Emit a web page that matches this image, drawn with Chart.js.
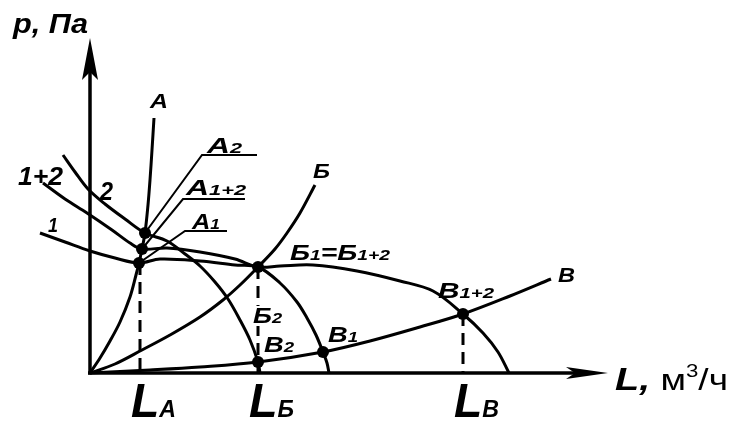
<!DOCTYPE html>
<html><head><meta charset="utf-8">
<script src="https://cdn.jsdelivr.net/npm/chart.js@4/dist/chart.umd.min.js"></script>
<style>html,body{margin:0;padding:0;background:#fff}#wrap{width:732px;height:424px}</style>
</head><body><div id="wrap"><canvas id="c" width="732" height="424"></canvas></div>
<script>
// ---- data (L = flow, P = pressure, arbitrary schematic units) ----
const fan1L  = [-50,-25,0,25,49,70,110,145,168,190,207,217,226,233,237,239];
const fan1P  = [140,131,122,115,110,114,112,108,106,90,71,55,38,21,10,0];
const fan2L  = [-27,-15,-2,15,35,55,77,95,110,125,138,150,160,168,170];
const fan2P  = [218,201,184,169,154,140,132,119,107,91,74,53,33,11,0];
const fan12L = [-47,-25,-3,22,40,52,77,110,145,168,190,223,267,310,343,373,393,408,419];
const fan12P = [190,174,160,143,130,124,125,121,114,106,107,108,102,92,82,59,40,21,0];
const netAL  = [0,10,20,30,40,46,49,52,55,58,60,62,64];
const netAP  = [0,15,32,51,76,98,110,124,140,168,193,223,255];
const netBeL = [0,25,52,80,110,133,150,168,185,197,210,225];
const netBeP = [0,9,23,38,56,73,88,106,124,140,160,188];
const netVL  = [0,60,110,168,233,280,330,373,420,461];
const netVP  = [0,3,6,11,21,32,46,59,77,94];
// operating points
const opNames = ['А2','А1+2','А1','Б1','В2','В1','В1+2'];
const opL     = [55,52,49,168,168,233,373];
const opP     = [140,124,110,106,11,21,59];
// tick labels (flows of the networks) and drop-line heights
const tickMain = ['L','L','L'];
const tickSub  = ['А','Б','В'];
const tickL    = [50,168,373];
const tickP    = [110,106,59];

const pts = (xs, ys) => xs.map((x, i) => ({x, y: ys[i]}));
const curve = (xs, ys) => ({data: pts(xs, ys), showLine: true, borderColor: '#000', borderWidth: 3,
  pointRadius: 0, tension: 0.35, fill: false, clip: false});
const drops = tickL.map((l, i) => ({data: [{x: l, y: tickP[i]}, {x: l, y: 0}], showLine: true,
  borderColor: '#000', borderWidth: 3, borderDash: [12, 7], pointRadius: 0, tension: 0, clip: false}));

const F = (s, b = true, i = true) => `${i ? 'italic ' : ''}${b ? 'bold ' : ''}${s}px "Liberation Sans", Arial, sans-serif`;

function rich(ctx, x, y, w, parts, bg) {
  ctx.save();
  let nat = 0;
  parts.forEach(p => { ctx.font = p.f; p.w = ctx.measureText(p.t).width; nat += p.w; });
  const sx = w / nat;
  if (bg) { ctx.fillStyle = '#fff'; ctx.fillRect(x - 2, y - bg, w + 4, bg + 3); }
  ctx.translate(x, y); ctx.scale(sx, 1);
  ctx.fillStyle = '#000'; ctx.textBaseline = 'alphabetic'; ctx.textAlign = 'left';
  let cx = 0;
  parts.forEach(p => { ctx.font = p.f; ctx.fillText(p.t, cx, p.dy || 0); cx += p.w; });
  ctx.restore();
}
const M = (t, s = 22) => ({t, f: F(s)});
const S = (t, s = 15) => ({t, f: F(s)});

const deco = {
  id: 'deco',
  beforeDatasetsDraw(chart) {
    const {ctx, scales: {x, y}} = chart;
    const ox = x.getPixelForValue(0), oy = y.getPixelForValue(0);
    ctx.save();
    ctx.strokeStyle = '#000'; ctx.fillStyle = '#000'; ctx.lineWidth = 3.5;
    ctx.beginPath(); ctx.moveTo(ox, oy + 1.5); ctx.lineTo(ox, 60); ctx.stroke();
    ctx.beginPath(); ctx.moveTo(ox - 2, oy); ctx.lineTo(590, oy); ctx.stroke();
    // y arrow
    ctx.beginPath(); ctx.moveTo(ox, 38); ctx.lineTo(ox + 8, 80); ctx.lineTo(ox, 72); ctx.lineTo(ox - 8, 80); ctx.closePath(); ctx.fill();
    // x arrow
    ctx.beginPath(); ctx.moveTo(608, oy); ctx.lineTo(566, oy - 6); ctx.lineTo(575, oy); ctx.lineTo(566, oy + 6); ctx.closePath(); ctx.fill();
    ctx.restore();
  },
  afterDatasetsDraw(chart) {
    const {ctx, scales: {x, y}} = chart;
    const px = i => x.getPixelForValue(opL[i]), py = i => y.getPixelForValue(opP[i]);
    // leaders for A points
    ctx.save(); ctx.strokeStyle = '#000'; ctx.lineWidth = 2;
    const lead = (i, sx0, sy0, ex) => { ctx.beginPath(); ctx.moveTo(px(i), py(i)); ctx.lineTo(sx0, sy0); ctx.lineTo(ex, sy0); ctx.stroke(); };
    lead(0, 202, 155, 257);
    lead(1, 183, 199, 245);
    lead(2, 185, 231, 227);
    ctx.restore();
    // axis titles
    rich(ctx, 13, 33, 75, [M('р, Па', 28)]);
    rich(ctx, 615, 390, 113, [M('L,', 32), {t: ' м', f: F(30, false, false)}, {t: '3', f: F(18, false, false), dy: -13}, {t: '/ч', f: F(30, false, false)}]);
    // ticks
    tickL.forEach((l, i) => {
      const tx = x.getPixelForValue(l) - 9;
      rich(ctx, tx, 417, 45, [M(tickMain[i], 48), M(tickSub[i], 24)]);
    });
    // curve labels
    rich(ctx, 150, 108, 18, [M('А', 21)]);
    rich(ctx, 313, 178, 17, [M('Б', 21)]);
    rich(ctx, 558, 282, 17, [M('В', 21)]);
    rich(ctx, 18, 185, 45, [M('1+2', 25)]);
    rich(ctx, 100, 200, 13, [M('2', 25)]);
    rich(ctx, 48, 232, 10, [M('1', 21)]);
    // point labels
    rich(ctx, 207, 153, 35, [M('А'), S('2')]);
    rich(ctx, 186, 195, 60, [M('А'), S('1+2')]);
    rich(ctx, 192, 229, 28, [M('А'), S('1')]);
    rich(ctx, 290, 260, 100, [M('Б'), S('1'), M('='), M('Б'), S('1+2')]);
    rich(ctx, 253, 323, 29, [M('Б'), S('2')], 17);
    rich(ctx, 264, 352, 30, [M('В'), S('2')]);
    rich(ctx, 328, 342, 30, [M('В'), S('1')]);
    rich(ctx, 438, 298, 56, [M('В'), S('1+2')]);
  }
};

new Chart(document.getElementById('c'), {
  type: 'scatter',
  data: {
    datasets: [
      curve(fan1L, fan1P), curve(fan2L, fan2P), curve(fan12L, fan12P),
      curve(netAL, netAP), curve(netBeL, netBeP), curve(netVL, netVP),
      ...drops,
      {data: pts(opL, opP), pointRadius: 6, pointBackgroundColor: '#000', pointBorderColor: '#000',
       pointBorderWidth: 0, showLine: false, clip: false}
    ]
  },
  options: {
    responsive: false, animation: false, devicePixelRatio: 1,
    layout: {padding: {left: 20, right: 112, top: 20, bottom: 51}},
    scales: {
      x: {type: 'linear', min: -70, max: 530, display: false},
      y: {type: 'linear', min: 0, max: 353, display: false}
    },
    plugins: {legend: {display: false}, tooltip: {enabled: false}}
  },
  plugins: [deco]
});
</script></body></html>
